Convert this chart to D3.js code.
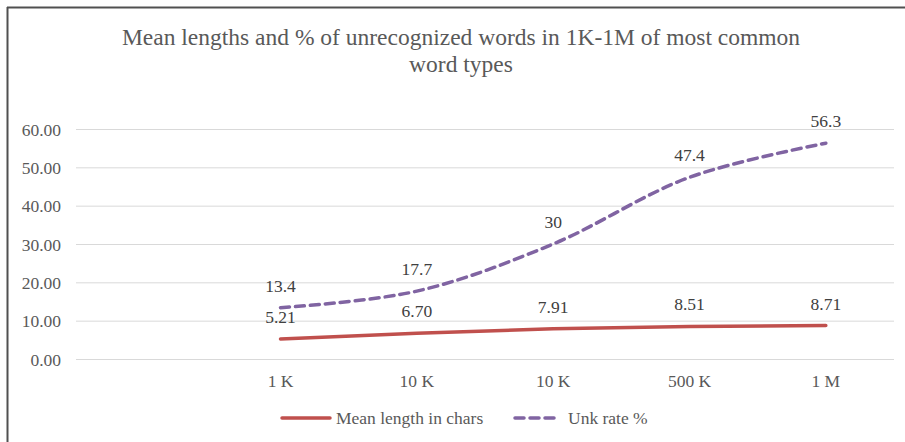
<!DOCTYPE html>
<html>
<head>
<meta charset="utf-8">
<script src="https://cdn.jsdelivr.net/npm/d3@7"></script>
<style>
  html, body { margin: 0; padding: 0; background: #fff; }
  svg { display: block; }
</style>
</head>
<body>
<script>
// chart values
const categories = ["", "1 K", "10 K", "10 K ", "500 K", "1 M"];
const meanLength = [null, 5.21, 6.70, 7.91, 8.51, 8.71];
const unkRate = [null, 13.4, 17.7, 30, 47.4, 56.3];
const meanLabels = ["", "5.21", "6.70", "7.91", "8.51", "8.71"];
const unkLabels = ["", "13.4", "17.7", "30", "47.4", "56.3"];
const yTicks = [0, 10, 20, 30, 40, 50, 60];

const W = 905, H = 442;
const FONT = "'Liberation Serif', 'DejaVu Serif', serif";
const FS = 17.5;

var svg = d3.select("body").append("svg")
  .attr("width", W)
  .attr("height", H);

// frame (only top and left edges show)
svg.append("line").attr("x1", 7).attr("x2", W).attr("y1", 7.5).attr("y2", 7.5)
  .attr("stroke", "#505050").attr("stroke-width", 2);
svg.append("line").attr("x1", 7.5).attr("x2", 7.5).attr("y1", 7).attr("y2", H)
  .attr("stroke", "#505050").attr("stroke-width", 2);

// title
var title = svg.append("text")
  .attr("text-anchor", "middle")
  .attr("font-family", FONT)
  .attr("font-size", 23.5)
  .attr("fill", "#595959");
title.append("tspan").attr("x", 461).attr("y", 45)
  .text("Mean lengths and % of unrecognized words in 1K-1M of most common");
title.append("tspan").attr("x", 461).attr("y", 72)
  .text("word types");

var x = d3.scaleBand()
  .domain(categories)
  .range([76, 894]);

var y = d3.scaleLinear()
  .domain([0, 60])
  .range([359, 129]);

// gridlines + y labels
var yAxis = svg.append("g")
  .attr("transform", "translate(76,0)")
  .call(d3.axisLeft(y).tickValues(yTicks).tickSize(-818).tickFormat(d3.format(".2f")));
yAxis.select(".domain").remove();
yAxis.selectAll(".tick line").attr("stroke", "#d9d9d9").attr("stroke-width", 1);
yAxis.selectAll(".tick text")
  .attr("x", -15)
  .attr("dy", "0.35em")
  .attr("font-family", FONT)
  .attr("font-size", FS)
  .attr("fill", "#595959");

// x labels
var xAxis = svg.append("g")
  .attr("transform", "translate(0,359)")
  .call(d3.axisBottom(x).tickSize(0));
xAxis.select(".domain").remove();
xAxis.selectAll(".tick text")
  .attr("y", 22)
  .attr("dy", "0.35em")
  .attr("font-family", FONT)
  .attr("font-size", FS)
  .attr("fill", "#595959");

function cx(i) { return x(categories[i]) + x.bandwidth() / 2; }

var line = d3.line()
  .defined(d => d != null)
  .x((d, i) => cx(i))
  .y(d => y(d));

var smooth = d3.line()
  .defined(d => d != null)
  .curve(d3.curveCatmullRom.alpha(0.5))
  .x((d, i) => cx(i))
  .y(d => y(d));

svg.append("path")
  .attr("d", line(meanLength))
  .attr("fill", "none")
  .attr("stroke", "#c0504d")
  .attr("stroke-width", 3.5)
  .attr("stroke-linecap", "round");

svg.append("path")
  .attr("d", smooth(unkRate))
  .attr("fill", "none")
  .attr("stroke", "#8064a2")
  .attr("stroke-width", 3.5)
  .attr("stroke-dasharray", "9,6")
  .attr("stroke-linecap", "round");

// data labels
function labels(vals, texts, off) {
  svg.append("g").selectAll("text")
    .data(vals.map((v, i) => ({ v: v, i: i })).filter(d => d.v != null))
    .join("text")
    .attr("x", d => cx(d.i))
    .attr("y", d => y(d.v) - off)
    .attr("text-anchor", "middle")
    .attr("font-family", FONT)
    .attr("font-size", FS)
    .attr("fill", "#404040")
    .text(d => texts[d.i]);
}
labels(meanLength, meanLabels, 16);
labels(unkRate, unkLabels, 16);

// legend
var leg = svg.append("g").attr("font-family", FONT).attr("font-size", FS).attr("fill", "#595959");
leg.append("line").attr("x1", 282).attr("x2", 330).attr("y1", 418).attr("y2", 418)
  .attr("stroke", "#c0504d").attr("stroke-width", 3.5).attr("stroke-linecap", "round");
leg.append("text").attr("x", 336).attr("y", 418).attr("dy", "0.35em").text("Mean length in chars");
leg.append("line").attr("x1", 515).attr("x2", 557).attr("y1", 418).attr("y2", 418)
  .attr("stroke", "#8064a2").attr("stroke-width", 3.5).attr("stroke-dasharray", "9,6")
  .attr("stroke-linecap", "round");
leg.append("text").attr("x", 568).attr("y", 418).attr("dy", "0.35em").text("Unk rate %");
</script>
</body>
</html>
